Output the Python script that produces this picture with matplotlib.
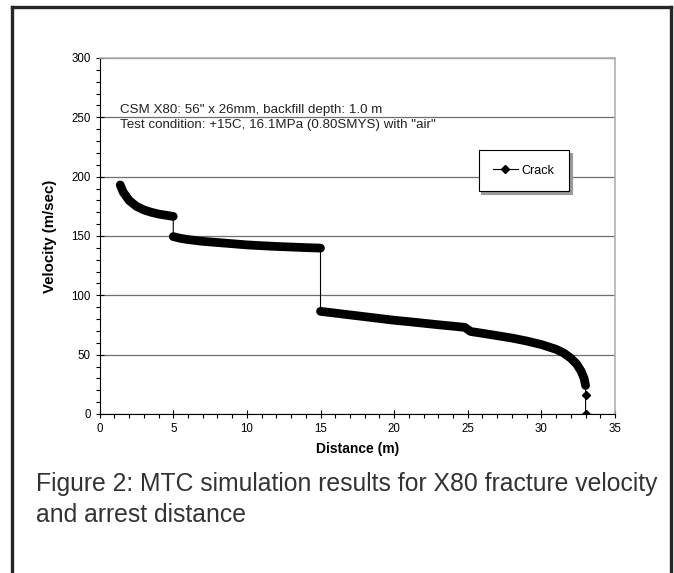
import matplotlib
matplotlib.use("Agg")
import matplotlib.pyplot as plt
from matplotlib.lines import Line2D
import numpy as np

# ---- data ----
seg1_x = [1.4, 1.6, 2.0, 2.5, 3.0, 3.5, 4.0, 4.5, 5.0]
seg1_y = [193, 187, 180, 175, 172, 170, 168.5, 167.5, 166.5]
seg2_x = [5.0, 5.5, 6, 7, 8, 9, 10, 11, 12, 13, 14, 15]
seg2_y = [149.5, 148, 147, 145.5, 144.5, 143.5, 142.5, 141.8, 141.2, 140.7, 140.2, 139.8]
seg3_x = [15, 16, 17, 18, 19, 20, 21, 22, 23, 24, 24.8, 25.2, 26, 27, 28, 29, 30,
          31, 31.5, 32, 32.4, 32.7, 32.9, 33.0]
seg3_y = [86.5, 85, 83.5, 82, 80.5, 79, 77.8, 76.5, 75.2, 74, 73, 69.5, 68, 66, 64,
          61.5, 58.5, 54.5, 51.5, 47, 42, 36, 30, 24]
tail_x = [33.0, 33.0]
tail_y = [16, 0]

series_name = "Crack"
x_label = "Distance (m)"
y_label = "Velocity (m/sec)"
note_lines = ['CSM X80: 56" x 26mm, backfill depth: 1.0 m',
              'Test condition: +15C, 16.1MPa (0.80SMYS) with "air"']
caption_lines = ["Figure 2: MTC simulation results for X80 fracture velocity",
                 "and arrest distance"]
x_ticks = [0, 5, 10, 15, 20, 25, 30, 35]
y_ticks = [0, 50, 100, 150, 200, 250, 300]

narrow = ["Liberation Sans Narrow", "Liberation Sans", "DejaVu Sans"]
plain = ["Liberation Sans", "DejaVu Sans"]

fig = plt.figure(figsize=(6.74, 5.73), dpi=100)
ax = fig.add_axes([0.1478, 0.2775, 0.9125 - 0.1478, 0.8988 - 0.2775])

all_x = seg1_x + seg2_x + seg3_x + tail_x
all_y = seg1_y + seg2_y + seg3_y + tail_y

# thin connecting line through every point
ax.plot(all_x, all_y, color="black", lw=0.8, zorder=3)
# dense marker band for the continuous stretches
for sx, sy in [(seg1_x, seg1_y), (seg2_x, seg2_y), (seg3_x, seg3_y)]:
    ax.plot(sx, sy, color="black", lw=6.3, solid_capstyle="round",
            solid_joinstyle="round", zorder=4)
ax.plot(tail_x, tail_y, linestyle="none", marker="D", ms=4.5, color="black", zorder=5)

# legend handle
handle = Line2D([], [], color="black", lw=0.8, marker="D", ms=4)
leg = ax.legend([handle], [series_name], loc="center",
                bbox_to_anchor=(0.823, 0.683), frameon=True, fancybox=False,
                shadow={"color": "#9a9a9a", "alpha": 1.0},
                prop={"family": narrow, "size": 9}, handlelength=2.0,
                borderpad=1.15, handletextpad=0.3, borderaxespad=0)
leg.get_frame().set_edgecolor("black")
leg.get_frame().set_linewidth(0.8)
leg.set_zorder(10)

ax.set_xlim(0, 35)
ax.set_ylim(0, 300)
ax.set_xticks(x_ticks)
ax.set_yticks(y_ticks)
ax.set_xticks(np.arange(0, 36, 1), minor=True)
ax.set_yticks(np.arange(0, 301, 10), minor=True)
ax.tick_params(axis="both", which="major", direction="inout", length=6,
               width=0.8, labelsize=8.3)
ax.tick_params(axis="both", which="minor", direction="out", length=3, width=0.8)
for lab in ax.get_xticklabels() + ax.get_yticklabels():
    lab.set_family(narrow)

ax.grid(axis="y", which="major", color="#6e6e6e", lw=0.9, zorder=1)
ax.set_axisbelow(True)
for side in ["top", "right"]:
    ax.spines[side].set_color("#b0b0b0")
    ax.spines[side].set_linewidth(1.2)
for side in ["left", "bottom"]:
    ax.spines[side].set_color("black")
    ax.spines[side].set_linewidth(0.8)

ax.set_xlabel(x_label, family=narrow, fontsize=10, fontweight="bold", labelpad=5)
ax.set_ylabel(y_label, family=narrow, fontsize=10.8, fontweight="bold", labelpad=10)

ax.text(1.38, 256, note_lines[0], family=narrow, fontsize=9.6, va="center",
        ha="left", color="#222222")
ax.text(1.38, 243.5, note_lines[1], family=narrow, fontsize=9.6, va="center",
        ha="left", color="#222222")

# caption
fig.text(36 / 674, 1 - 484 / 573, caption_lines[0], family=plain, fontsize=17.8,
         color="#333333", va="center", ha="left")
fig.text(36 / 674, 1 - 515 / 573, caption_lines[1], family=plain, fontsize=17.8,
         color="#333333", va="center", ha="left")

# outer frame (left, top, right)
bc = "#262626"
fig.add_artist(Line2D([12 / 674, 12 / 674], [0, 1 - 7 / 573], transform=fig.transFigure,
                      color=bc, lw=2.4))
fig.add_artist(Line2D([12 / 674, 671 / 674], [1 - 7 / 573, 1 - 7 / 573],
                      transform=fig.transFigure, color=bc, lw=2.4))
fig.add_artist(Line2D([671 / 674, 671 / 674], [0, 1 - 7 / 573], transform=fig.transFigure,
                      color=bc, lw=2.4))

fig.savefig("out.png", dpi=100)
